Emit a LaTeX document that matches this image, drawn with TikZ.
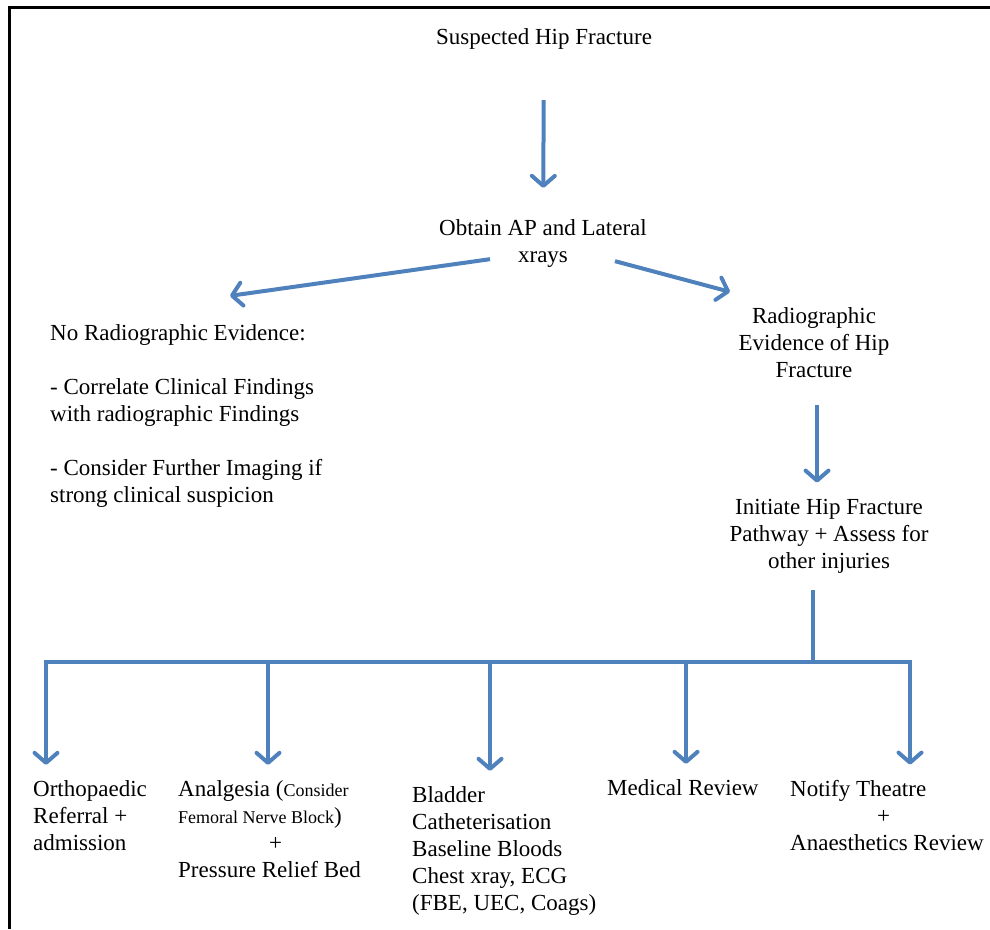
\documentclass[tikz,border=0pt]{standalone}
\usepackage{fontspec}
\setmainfont{Liberation Serif}
\usepackage{tikz}
\usetikzlibrary{calc,arrows.meta,positioning}
\definecolor{myblue}{RGB}{79,129,189}
\tikzstyle{ctext}=[inner sep=0pt,anchor=base,align=center,font=\fontsize{23}{27}\selectfont]
\tikzstyle{ltext}=[inner sep=0pt,anchor=base west,align=left,font=\fontsize{23}{27}\selectfont]
\tikzstyle{flow}=[myblue,line width=4pt,-{Straight Barb[length=10pt,width=23pt,round]}]
\tikzstyle{bar}=[myblue,line width=4pt,line cap=rect]
\newcommand{\smtxt}[1]{{\fontsize{18}{27}\selectfont #1}}

\begin{document}
\begin{tikzpicture}[x=1pt,y=-1pt]
\useasboundingbox (0,0) rectangle (990,929);
\draw[line width=3pt] (9,929) -- (9,7) -- (990,7);
\draw (544, 44) node [ctext] (susp) {Suspected Hip Fracture};
\draw (543, 262) node [ctext] (xray) {Obtain AP and Lateral\\xrays};
\draw (50, 502) node [ltext] (neg) {No Radiographic Evidence:\\[27pt]- Correlate Clinical Findings\\with radiographic Findings\\[27pt]- Consider Further Imaging if\\strong clinical suspicion};
\draw (814, 377) node [ctext] (pos) {Radiographic\\Evidence of Hip\\Fracture};
\draw (829, 568) node [ctext] (path) {Initiate Hip Fracture\\Pathway + Assess for\\other injuries};
\draw (33, 850) node [ltext] (ortho) {Orthopaedic\\Referral +\\admission};
\draw (178, 877) node [ltext] (anal) {Analgesia (\smtxt{Consider}\\\smtxt{Femoral Nerve Block})\\\hspace*{91pt}+\\Pressure Relief Bed};
\draw (412, 910) node [ltext] (blad) {Bladder\\Catheterisation\\Baseline Bloods\\Chest xray, ECG\\(FBE, UEC, Coags)};
\draw (607, 795) node [ltext] (med) {Medical Review};
\draw (790, 850) node [ltext] (theat) {Notify Theatre\\\hspace*{87pt}+\\Anaesthetics Review};
\coordinate (trunk) at (813, 662);
\coordinate (b1) at (46, 662);
\coordinate (b2) at (268, 662);
\coordinate (b3) at (490, 662);
\coordinate (b4) at (686, 662);
\coordinate (b5) at (910, 662);
\draw[flow, shorten <=51pt, shorten >=31pt] (susp) -- (xray);
\draw[flow] ([shift={(-53,-8)}]xray.south) -- ([shift={(180,-28)}]neg.north west);
\draw[flow] ([shift={(72,-6)}]xray.south) -- ([shift={(-84,-15)}]pos.north);
\draw[flow] ([shift={(3,28)}]pos.south) -- ([shift={(-12,-16)}]path.north);
\draw[bar] ([shift={(-16,19)}]path.south) -- (trunk);
\draw[bar] (b1) -- (b5);
\foreach \b/\n in {b1/ortho,b2/anal,b3/blad,b4/med,b5/theat}
  \draw[flow, shorten >=15pt] (\b) -- (\b |- \n.north);
\end{tikzpicture}
\end{document}
